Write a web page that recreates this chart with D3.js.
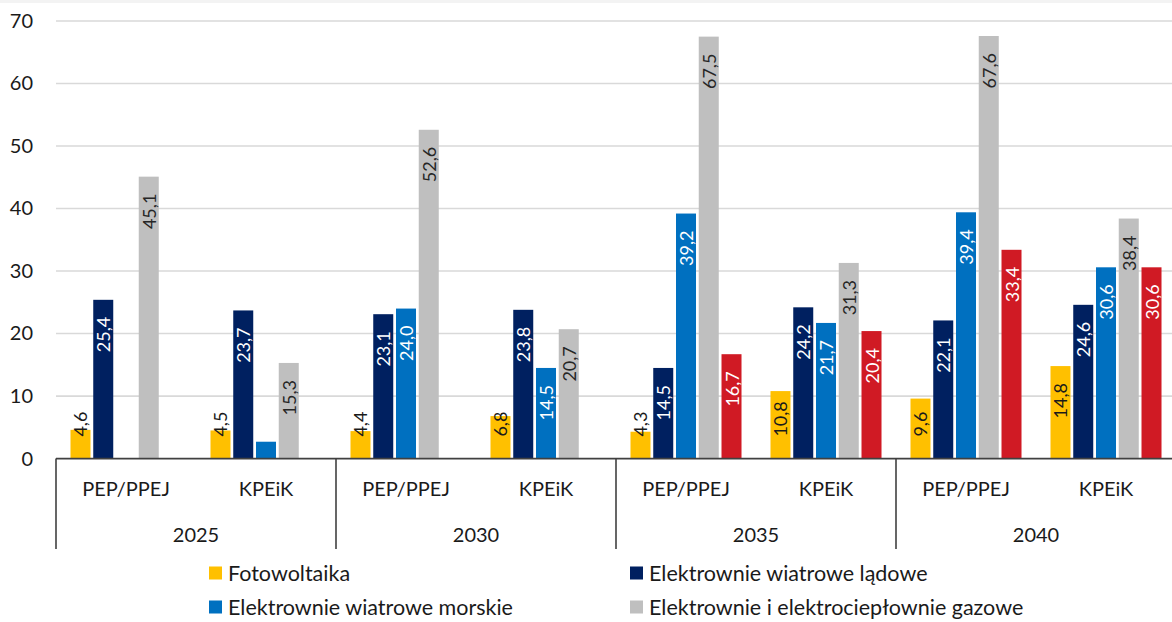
<!DOCTYPE html>
<html>
<head>
<meta charset="utf-8">
<script src="https://cdn.jsdelivr.net/npm/d3@7"></script>
<style>
  html, body { margin: 0; padding: 0; background: #fff; }
  svg { display: block; font-family: Lato, "Noto Sans", sans-serif; }
</style>
</head>
<body>
<svg id="chart" width="1172" height="622"></svg>
<script>
// ---- data ----
const years = ["2025", "2030", "2035", "2040"];
const scenarios = ["PEP/PPEJ", "KPEiK"];
const seriesNames = [
  "Fotowoltaika",
  "Elektrownie wiatrowe lądowe",
  "Elektrownie wiatrowe morskie",
  "Elektrownie i elektrociepłownie gazowe",
  "Elektrownie jądrowe"
];
// values per category (year x scenario), in order of categories below; null = no bar
const fotowoltaika = [4.6, 4.5, 4.4, 6.8, 4.3, 10.8, 9.6, 14.8];
const wiatroweLadowe = [25.4, 23.7, 23.1, 23.8, 14.5, 24.2, 22.1, 24.6];
const wiatroweMorskie = [null, 2.7, 24.0, 14.5, 39.2, 21.7, 39.4, 30.6];
const gazowe = [45.1, 15.3, 52.6, 20.7, 67.5, 31.3, 67.6, 38.4];
const jadrowe = [null, null, null, null, 16.7, 20.4, 33.4, 30.6];
const showLabel = [
  [true, true, true, true, true, true, true, true],
  [true, true, true, true, true, true, true, true],
  [false, false, true, true, true, true, true, true],
  [true, true, true, true, true, true, true, true],
  [false, false, false, false, true, true, true, true]
];
const yTicks = [0, 10, 20, 30, 40, 50, 60, 70];
const colors = ["#FFC000", "#002060", "#0070C0", "#BFBFBF", "#D01A24"];
const labelColors = ["#1a1a1a", "#ffffff", "#ffffff", "#262626", "#ffffff"];
const legendItems = [0, 1, 2, 3];

const allSeries = [fotowoltaika, wiatroweLadowe, wiatroweMorskie, gazowe, jadrowe];
const categories = [];
years.forEach(y => scenarios.forEach(s => categories.push(y + "|" + s)));

// ---- layout ----
const svg = d3.select("#chart");
const plotLeft = 56, plotRight = 1176, yBase = 458.6, yTop = 21;

svg.append("rect").attr("x", 0).attr("y", 0).attr("width", 1172).attr("height", 3).attr("fill", "#f3f3f3");

const x0 = d3.scaleBand().domain(categories).range([plotLeft, plotRight]).padding(0);
const x1 = d3.scaleBand().domain(d3.range(5)).range([0, x0.bandwidth()])
  .paddingInner(0.121).paddingOuter(0.637);
const y = d3.scaleLinear().domain([0, 70]).range([yBase, yTop]);

// gridlines
svg.append("g").selectAll("line").data(yTicks.filter(t => t > 0)).join("line")
  .attr("x1", plotLeft).attr("x2", 1172)
  .attr("y1", d => y(d)).attr("y2", d => y(d))
  .attr("stroke", "#D9D9D9").attr("stroke-width", 1.6);

// y axis labels
const yAxis = d3.axisLeft(y).tickValues(yTicks).tickSize(0).tickPadding(0).tickFormat(d3.format("d"));
const gy = svg.append("g").attr("transform", "translate(33,0)").call(yAxis);
gy.select(".domain").remove();
gy.selectAll("text").attr("font-size", 20).attr("fill", "#1a1a1a").attr("font-family", "Lato, 'Noto Sans', sans-serif");

// bars
const gBars = svg.append("g");
const barData = [];
allSeries.forEach((arr, si) => arr.forEach((v, ci) => {
  if (v !== null) barData.push({ si, ci, v });
}));
gBars.selectAll("rect").data(barData).join("rect")
  .attr("x", d => x0(categories[d.ci]) + x1(d.si))
  .attr("width", x1.bandwidth())
  .attr("y", d => y(d.v))
  .attr("height", d => yBase - y(d.v))
  .attr("fill", d => colors[d.si]);

// data labels (rotated)
const fmt = v => v.toFixed(1).replace(".", ",");
const gLab = svg.append("g");
barData.filter(d => showLabel[d.si][d.ci]).forEach(d => {
  const cx = x0(categories[d.ci]) + x1(d.si) + x1.bandwidth() / 2;
  const t = gLab.append("text")
    .attr("font-size", 18)
    .attr("fill", labelColors[d.si])
    .attr("text-anchor", "start")
    .attr("dominant-baseline", "central")
    .text(fmt(d.v));
  const len = t.node().getComputedTextLength();
  const bottom = Math.min(y(d.v) + 17 + len, yBase - 22);
  t.attr("transform", `translate(${cx},${bottom}) rotate(-90)`);
});

// x axis
const axisColor = "#404040";
svg.append("line").attr("x1", plotLeft).attr("x2", 1172).attr("y1", yBase).attr("y2", yBase)
  .attr("stroke", axisColor).attr("stroke-width", 1.6);
const sepX = years.map(yr => x0(yr + "|" + scenarios[0]));
svg.append("g").selectAll("line").data(sepX).join("line")
  .attr("x1", d => d).attr("x2", d => d).attr("y1", yBase).attr("y2", 549)
  .attr("stroke", axisColor).attr("stroke-width", 1.6);

svg.append("g").selectAll("text").data(categories).join("text")
  .attr("x", d => x0(d) + x0.bandwidth() / 2)
  .attr("y", 488)
  .attr("text-anchor", "middle").attr("dominant-baseline", "central")
  .attr("font-size", 20).attr("fill", "#1a1a1a")
  .text(d => d.split("|")[1]);

svg.append("g").selectAll("text").data(years).join("text")
  .attr("x", d => x0(d + "|" + scenarios[0]) + x0.bandwidth())
  .attr("y", 534)
  .attr("text-anchor", "middle").attr("dominant-baseline", "central")
  .attr("font-size", 20).attr("fill", "#1a1a1a")
  .text(d => d);

// legend
const legendPos = [[209, 573], [630, 573], [209, 607], [630, 607]];
const gLeg = svg.append("g");
legendItems.forEach((si, i) => {
  const [lx, ly] = legendPos[i];
  gLeg.append("rect").attr("x", lx).attr("y", ly - 6.5).attr("width", 13).attr("height", 13).attr("fill", colors[si]);
  gLeg.append("text").attr("x", lx + 19).attr("y", ly).attr("dominant-baseline", "central")
    .attr("font-size", 21.5).attr("fill", "#1a1a1a").text(seriesNames[si]);
});
</script>
</body>
</html>
